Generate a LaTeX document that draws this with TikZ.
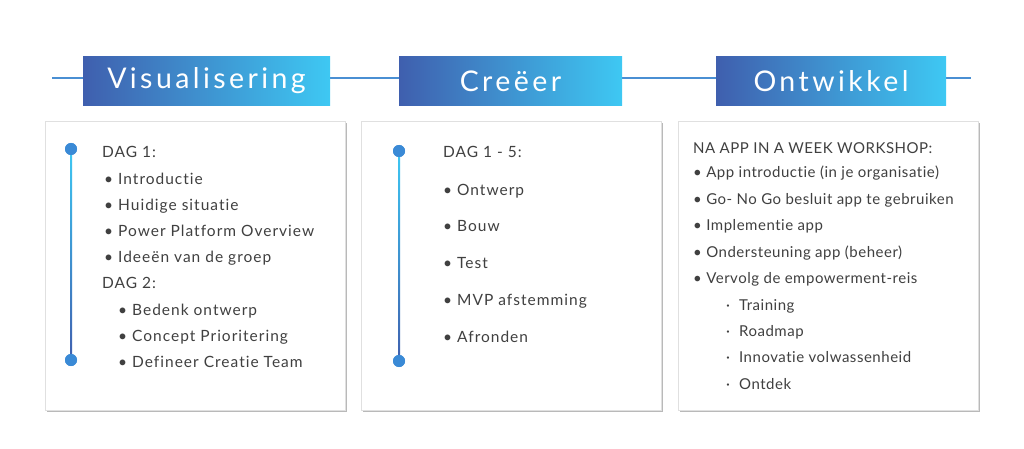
\documentclass[tikz,border=0pt]{standalone}
\usepackage{fontspec}
\setmainfont{Lato}
\newfontfamily\hdrfont[LetterSpace=12]{Lato}
\newfontfamily\bodyfont[LetterSpace=6.5, Ligatures=NoCommon]{Lato}
\newfontfamily\smallbodyfont[LetterSpace=3.5, Ligatures=NoCommon]{Lato}
\usetikzlibrary{positioning}
\usetikzlibrary{shadows}

\definecolor{hdrleft}{HTML}{3F5FAE}
\definecolor{hdrright}{HTML}{3EC8F3}
\definecolor{lineblue}{HTML}{4A8FD3}
\definecolor{dotblue}{HTML}{3A8AD6}
\definecolor{txtgray}{HTML}{404040}

\tikzset{
  hdr/.style={minimum height=49pt, inner sep=0pt, left color=hdrleft, right color=hdrright,
    text=white, font=\hdrfont\fontsize{28.5}{32}\selectfont},
  panel/.style={draw=black!12, fill=white, minimum width=300pt, minimum height=289pt,
    anchor=north west, inner sep=0pt,
    drop shadow={shadow xshift=2pt, shadow yshift=-2pt, fill=black!50, opacity=0.55}},
  dot/.style={circle, inner sep=0pt, minimum size=12pt, fill=dotblue},
  item/.style={anchor=base west, inner sep=0pt, text=txtgray, font=\bodyfont\fontsize{15.5}{18}\selectfont},
  smallitem/.style={item, font=\smallbodyfont\fontsize{15}{18}\selectfont},
}

\begin{document}
\begin{tikzpicture}[x=1pt, y=-1pt]
  \useasboundingbox (0,0) rectangle (1024,449);

  % timeline across the top
  \coordinate (lstart) at (52,78);
  \coordinate (lend) at (971,78);
  \draw [lineblue, line width=2pt] (lstart) -- (lend);

  \node [hdr, minimum width=247pt] (visual) at (206.5,81) {Visualisering};
  \node [hdr, minimum width=223pt] (creeer) at (510.5,81) {Creëer};
  \node [hdr, minimum width=230pt] (ontw) at (831,81) {Ontwikkel};

  % panels
  \node [panel] (p1) at (45,121) {};
  \node [panel] (p2) at (361,121) {};
  \node [panel] (p3) at (678,121) {};

  % Visualisering
  \node [dot] (v1top) at (71,149) {};
  \node [dot] (v1bot) at (71,360) {};
  \shade [top color=hdrright, bottom color=hdrleft] (v1top.center) ++(-1,0) rectangle ([xshift=1pt]v1bot.center);
  \node [dot] at (v1top) {};
  \node [dot] at (v1bot) {};

  \node [item] (dag1) at (102,158) {DAG 1:};
  \foreach \txt [count=\i from 0] in {Introductie, Huidige situatie,
      Power Platform Overview, Ideeën van de groep}
    \node [item] (va\i) at (104,184.2+26.2*\i) {\textbullet\ \txt};
  \node [item] (dag2) at (102,288.8) {DAG 2:};
  \foreach \txt [count=\i from 0] in {Bedenk ontwerp, Concept Prioritering,
      Defineer Creatie Team}
    \node [item] (vb\i) at (118,315+26.2*\i) {\textbullet\ \txt};

  % Creeer
  \node [dot] (c1top) at (399,151) {};
  \node [dot] (c1bot) at (399,361) {};
  \shade [top color=hdrright, bottom color=hdrleft] (c1top.center) ++(-1,0) rectangle ([xshift=1pt]c1bot.center);
  \node [dot] at (c1top) {};
  \node [dot] at (c1bot) {};

  \node [item] (dag15) at (443,158) {DAG 1 - 5:};
  \foreach \txt [count=\i from 0] in {Ontwerp, Bouw, Test, MVP afstemming, Afronden}
    \node [item] (ca\i) at (443,195+36.8*\i) {\textbullet\ \txt};

  % Ontwikkel
  \node [smallitem] (na) at (693,154) {NA APP IN A WEEK WORKSHOP:};
  \foreach \txt [count=\i from 0] in {App introductie (in je organisatie),
      Go- No Go besluit app te gebruiken, Implementie app,
      Ondersteuning app (beheer), Vervolg de empowerment-reis}
    \node [smallitem] (oa\i) at (693,178+26.4*\i) {\textbullet\ \txt};
  \foreach \txt [count=\i from 0] in {Training, Roadmap, Innovatie volwassenheid, Ontdek}
    \node [smallitem] (ob\i) at (726,310+26.4*\i) {·\hspace{9pt}\txt};

\end{tikzpicture}
\end{document}
